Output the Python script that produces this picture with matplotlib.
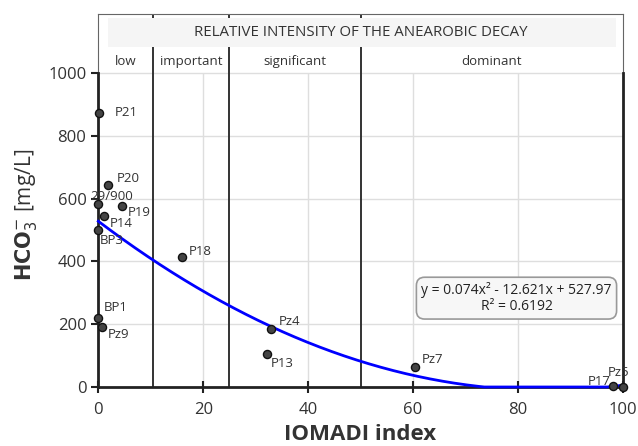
import numpy as np
import matplotlib.pyplot as plt
from matplotlib.patches import Rectangle

plt.rcParams['font.family'] = ['Open Sans', 'DejaVu Sans']

# sample points
names = ["P21", "P20", "29/900", "P19", "P14", "BP3", "P18", "BP1", "Pz9",
         "Pz4", "P13", "Pz7", "P17", "Pz5"]
iomadi = [0.2, 1.9, 0.0, 4.6, 1.1, 0.0, 16.0, 0.0, 0.8, 33.0, 32.1, 60.4, 98.1, 100.0]
hco3 = [874, 643, 584, 575, 546, 501, 415, 219, 190, 186, 106, 65, 4, 1]
# label offsets in points
offsets = [(11, 0), (6, 5), (-6, 5), (4, -4), (4, -6), (1, -8), (5, 4), (4, 8),
           (4, -5), (5, 5), (3, -7), (5, 5), (-18, 3), (-11, 10)]

# trend line given in the chart
coef = [0.074, -12.621, 527.97]
r2 = 0.6192

# intensity classes
zone_edges = [0, 10.5, 25, 50, 100]
zone_names = ["low", "important", "significant", "dominant"]

fig = plt.figure(figsize=(6.38, 4.46), dpi=100)
ax = fig.add_axes([98.3 / 638, 1 - 387 / 446, (623 - 98.3) / 638, (387 - 14) / 446])
ax.set_xlim(0, 100)
ax.set_ylim(0, 1188)

# grid
for yv in range(200, 1001, 200):
    ax.axhline(yv, color='#dedede', lw=1, zorder=0)
for xv in [20, 40, 60, 80]:
    ax.vlines(xv, 0, 1000, color='#dedede', lw=1, zorder=0)

# class separators
for xv in zone_edges[1:-1]:
    ax.vlines(xv, 0, 1188, color='#333333', lw=1.4, zorder=1)

# header band
ax.add_patch(Rectangle((1.9, 1084), 96.8, 90, facecolor='#f5f5f5', edgecolor='none', zorder=2))
ax.text(50.1, 1128, "RELATIVE INTENSITY OF THE ANEAROBIC DECAY", ha='center', va='center',
        fontsize=10.8, color='#333333', zorder=3)
for i, nm in enumerate(zone_names):
    xc = (zone_edges[i] + zone_edges[i + 1]) / 2
    ax.text(xc, 1036, nm, ha='center', va='center', fontsize=9.5, color='#333333', zorder=3)

# frame
for s in ax.spines.values():
    s.set_color('#666666')
    s.set_linewidth(0.8)
ax.spines['bottom'].set_color('#222222')
ax.spines['bottom'].set_linewidth(2)
ax.plot([0, 0], [0, 1000], color='#222222', lw=2, clip_on=False, zorder=4)
ax.plot([100, 100], [0, 1000], color='#222222', lw=2, clip_on=False, zorder=4)

# trend curve
xs = np.linspace(0, 100, 300)
ys = np.clip(np.polyval(coef, xs), 0, None)
ax.plot(xs, ys, color='#0000ff', lw=2, zorder=5, clip_on=False)

ax.scatter(iomadi, hco3, s=34, color='#444444', edgecolor='#111111', lw=1, zorder=6, clip_on=False)
for nm, xv, yv, off in zip(names, iomadi, hco3, offsets):
    ax.annotate(nm, (xv, yv), xytext=off, textcoords='offset points', fontsize=9.5,
                color='#333333', va='center', zorder=7, annotation_clip=False)

ax.text(79.7, 283, "y = 0.074x² - 12.621x + 527.97\nR² = %.4f" % r2, ha='center', va='center',
        fontsize=10, color='#222222', linespacing=1.1, zorder=7,
        bbox=dict(boxstyle='round,pad=0.35,rounding_size=0.6', fc='#f7f7f7', ec='#999999', lw=1.2))

ax.set_xticks(range(0, 101, 20))
ax.set_yticks(range(0, 1001, 200))
ax.tick_params(axis='x', direction='inout', length=8, width=1.5, color='#222222',
               labelsize=12, labelcolor='#333333', pad=7)
ax.tick_params(axis='y', direction='out', length=5, width=1.5, color='#222222',
               labelsize=12, labelcolor='#333333')

fig.text(360 / 638, 11 / 446, "IOMADI index", ha='center', va='center', fontsize=16,
         fontweight='bold', color='#333333')
fig.text(26 / 638, 1 - 215 / 446, r"$\mathbf{HCO}_{3}^{-}$ [mg/L]", rotation=90,
         ha='center', va='center', fontsize=15, color='#333333')

fig.savefig("out.png", dpi=100)
